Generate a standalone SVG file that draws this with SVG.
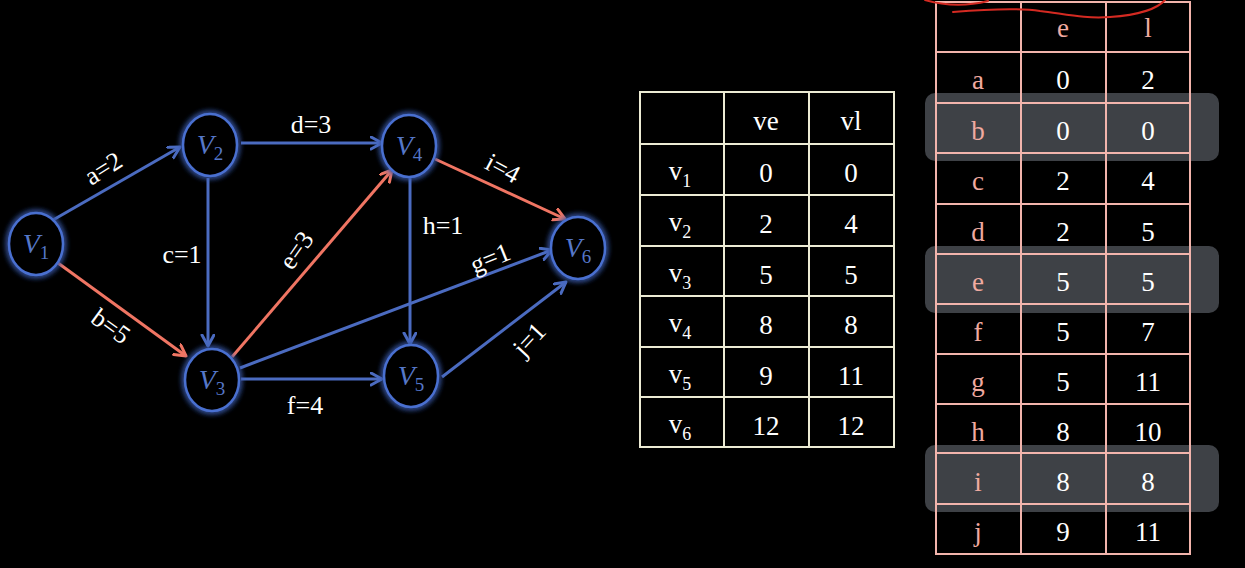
<svg xmlns="http://www.w3.org/2000/svg" width="1245" height="568" viewBox="0 0 1245 568">
<style>
.bg{fill:#000}
.node{fill:#000;stroke:#4a6fd0;stroke-width:2.5}
.nl{font-family:"Liberation Serif",serif;font-style:italic;font-size:28px;fill:#5577c8;text-anchor:middle}
.sub{font-style:normal;font-size:19px}
.eb{stroke:#4b6bc0;stroke-width:3;fill:none;marker-end:url(#ab)}
.er{stroke:#f07563;stroke-width:3;fill:none;marker-end:url(#ar)}
.el{font-family:"Liberation Serif",serif;font-size:26px;fill:#fff;text-anchor:middle}
.t1{stroke:#ecebd4;stroke-width:2;fill:none}
.t2{stroke:#f2b4ac;stroke-width:2;fill:none}
.tt{font-family:"Liberation Serif",serif;font-size:27px;fill:#fff;text-anchor:middle}
.tp{font-family:"Liberation Serif",serif;font-size:27px;fill:#f0aaa0;text-anchor:middle}
.hl{fill:#3e4146}
</style>
<defs>
<filter id="glow" x="-50%" y="-50%" width="200%" height="200%">
<feGaussianBlur in="SourceGraphic" stdDeviation="3" result="b"/>
<feMerge><feMergeNode in="b"/><feMergeNode in="b"/><feMergeNode in="SourceGraphic"/></feMerge>
</filter>
<marker id="ab" markerUnits="userSpaceOnUse" markerWidth="16" markerHeight="16" refX="12" refY="7" orient="auto">
<path d="M1,1 L12,7 L1,13" fill="none" stroke="#4b6bc0" stroke-width="3" stroke-linecap="round" stroke-linejoin="round"/>
</marker>
<marker id="ar" markerUnits="userSpaceOnUse" markerWidth="16" markerHeight="16" refX="12" refY="7" orient="auto">
<path d="M1,1 L12,7 L1,13" fill="none" stroke="#f07563" stroke-width="3" stroke-linecap="round" stroke-linejoin="round"/>
</marker>
</defs>
<rect class="bg" x="0" y="0" width="1245" height="568"/>

<g id="connectors">
<path class="eb" d="M53,220 L180,147"/>
<path class="er" d="M58,263 L186,356"/>
<path class="eb" d="M208,178 L208,346"/>
<path class="eb" d="M241,143 L382,143"/>
<path class="er" d="M232,357 L392,170"/>
<path class="eb" d="M241,379 L382,379"/>
<path class="eb" d="M240,368 L552,250"/>
<path class="eb" d="M410,177 L410,344"/>
<path class="er" d="M435,159 L565,219"/>
<path class="eb" d="M442,377 L566,282"/>
<text class="el" x="103" y="177" transform="rotate(-32 103 168)">a=2</text>
<text class="el" x="111" y="335" transform="rotate(36 111 326)">b=5</text>
<text class="el" x="182" y="263">c=1</text>
<text class="el" x="311" y="133">d=3</text>
<text class="el" x="296" y="259" transform="rotate(-55 296 250)">e=3</text>
<text class="el" x="305" y="414">f=4</text>
<text class="el" x="490" y="267" transform="rotate(-22 490 258)">g=1</text>
<text class="el" x="443" y="234">h=1</text>
<text class="el" x="503" y="177" transform="rotate(28 503 168)">i=4</text>
<text class="el" x="529" y="348" transform="rotate(-47 529 339)">j=1</text>
</g>

<g id="V1"><ellipse class="node" filter="url(#glow)" cx="36" cy="244" rx="27" ry="31"/><text class="nl" x="36" y="253">V<tspan class="sub" dy="6">1</tspan></text></g>
<g id="V2"><ellipse class="node" filter="url(#glow)" cx="210" cy="145" rx="27" ry="31"/><text class="nl" x="210" y="154">V<tspan class="sub" dy="6">2</tspan></text></g>
<g id="V3"><ellipse class="node" filter="url(#glow)" cx="212" cy="380" rx="27" ry="31"/><text class="nl" x="212" y="389">V<tspan class="sub" dy="6">3</tspan></text></g>
<g id="V4"><ellipse class="node" filter="url(#glow)" cx="409" cy="146" rx="27" ry="31"/><text class="nl" x="409" y="155">V<tspan class="sub" dy="6">4</tspan></text></g>
<g id="V5"><ellipse class="node" filter="url(#glow)" cx="411" cy="376" rx="27" ry="31"/><text class="nl" x="411" y="385">V<tspan class="sub" dy="6">5</tspan></text></g>
<g id="V6"><ellipse class="node" filter="url(#glow)" cx="578" cy="248" rx="27" ry="31"/><text class="nl" x="578" y="257">V<tspan class="sub" dy="6">6</tspan></text></g>

<g id="vertex-table">
<rect class="t1" x="640" y="92" width="254" height="355"/>
<path class="t1" d="M724,92 V447 M809,92 V447 M640,144 H894 M640,195 H894 M640,246 H894 M640,296 H894 M640,347 H894 M640,397 H894"/>
<text class="tt" x="766" y="130">ve</text>
<text class="tt" x="851" y="130">vl</text>
<text class="tt" x="680" y="180">v<tspan font-size="18" dy="7">1</tspan></text>
<text class="tt" x="680" y="231">v<tspan font-size="18" dy="7">2</tspan></text>
<text class="tt" x="680" y="282">v<tspan font-size="18" dy="7">3</tspan></text>
<text class="tt" x="680" y="332">v<tspan font-size="18" dy="7">4</tspan></text>
<text class="tt" x="680" y="383">v<tspan font-size="18" dy="7">5</tspan></text>
<text class="tt" x="680" y="433">v<tspan font-size="18" dy="7">6</tspan></text>
<text class="tt" x="766" y="182">0</text><text class="tt" x="851" y="182">0</text>
<text class="tt" x="766" y="233">2</text><text class="tt" x="851" y="233">4</text>
<text class="tt" x="766" y="284">5</text><text class="tt" x="851" y="284">5</text>
<text class="tt" x="766" y="334">8</text><text class="tt" x="851" y="334">8</text>
<text class="tt" x="766" y="385">9</text><text class="tt" x="851" y="385">11</text>
<text class="tt" x="766" y="435">12</text><text class="tt" x="851" y="435">12</text>
</g>

<g id="edge-table">
<rect class="hl" x="925" y="93" width="294" height="68" rx="10"/>
<rect class="hl" x="925" y="246" width="294" height="67" rx="10"/>
<rect class="hl" x="925" y="445" width="294" height="67" rx="10"/>
<rect class="t2" x="936" y="2" width="254" height="552"/>
<path class="t2" d="M1021,2 V554 M1106,2 V554 M936,52 H1190 M936,103 H1190 M936,153 H1190 M936,204 H1190 M936,254 H1190 M936,304 H1190 M936,354 H1190 M936,404 H1190 M936,453 H1190 M936,504 H1190"/>
<text class="tp" x="1063" y="37">e</text><text class="tp" x="1148" y="37">l</text>
<text class="tp" x="978" y="89">a</text><text class="tt" x="1063" y="89">0</text><text class="tt" x="1148" y="89">2</text>
<text class="tp" x="978" y="140">b</text><text class="tt" x="1063" y="140">0</text><text class="tt" x="1148" y="140">0</text>
<text class="tp" x="978" y="190">c</text><text class="tt" x="1063" y="190">2</text><text class="tt" x="1148" y="190">4</text>
<text class="tp" x="978" y="241">d</text><text class="tt" x="1063" y="241">2</text><text class="tt" x="1148" y="241">5</text>
<text class="tp" x="978" y="291">e</text><text class="tt" x="1063" y="291">5</text><text class="tt" x="1148" y="291">5</text>
<text class="tp" x="978" y="341">f</text><text class="tt" x="1063" y="341">5</text><text class="tt" x="1148" y="341">7</text>
<text class="tp" x="978" y="391">g</text><text class="tt" x="1063" y="391">5</text><text class="tt" x="1148" y="391">11</text>
<text class="tp" x="978" y="441">h</text><text class="tt" x="1063" y="441">8</text><text class="tt" x="1148" y="441">10</text>
<text class="tp" x="978" y="491">i</text><text class="tt" x="1063" y="491">8</text><text class="tt" x="1148" y="491">8</text>
<text class="tp" x="978" y="541">j</text><text class="tt" x="1063" y="541">9</text><text class="tt" x="1148" y="541">11</text>
</g>

<g id="scribble" fill="none" stroke="#d42a22" stroke-width="2" stroke-linecap="round">
<path d="M925,0 Q956,9 988,1"/>
<path d="M953,12 C990,9 1020,8 1040,11 C1065,14 1085,19 1110,17 C1140,15 1158,8 1165,0"/>
</g>
</svg>
